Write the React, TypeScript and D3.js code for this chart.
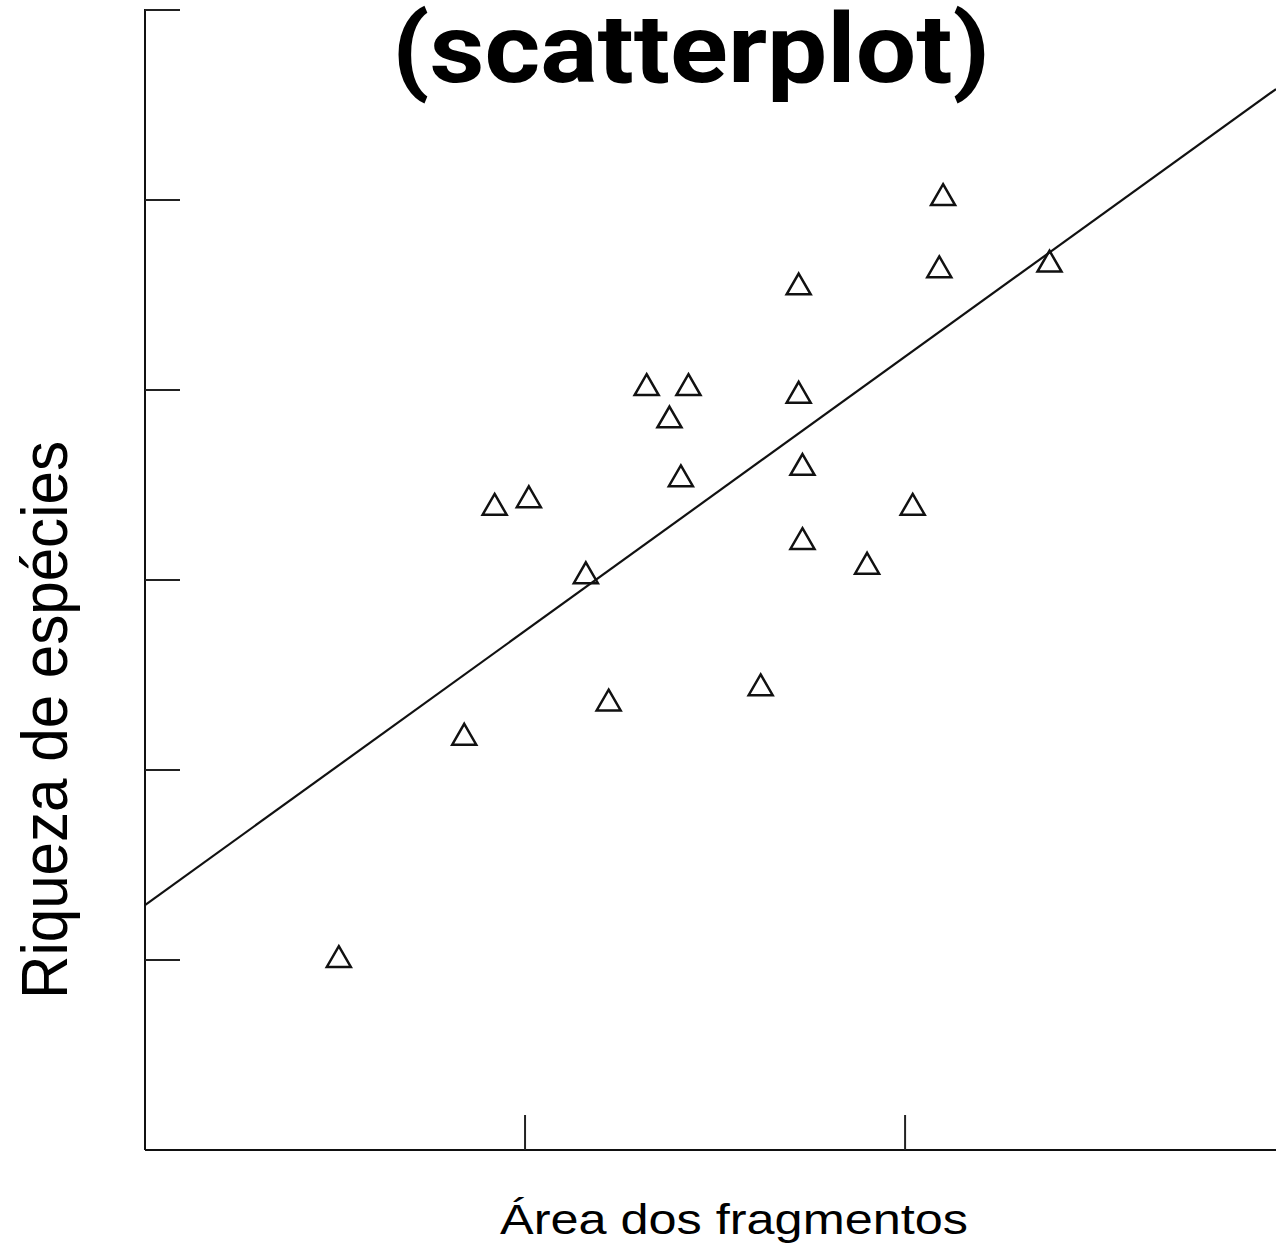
import React from 'react';
import * as d3 from 'd3';

// area (x) vs species richness (y)
const areaValues = [0.51, 0.84, 0.92, 1.01, 1.16, 1.22, 1.32, 1.43, 1.38, 1.41, 1.62, 1.72, 1.72, 1.73, 1.73, 1.90, 2.02, 2.10, 2.09, 2.38];
const richnessValues = [1.0, 2.17, 3.38, 3.42, 3.02, 2.35, 4.01, 4.01, 3.84, 3.53, 2.43, 4.54, 3.97, 3.59, 3.2, 3.07, 3.38, 5.01, 4.63, 4.66];

const xTicks = [1, 2];
const yTicks = [1, 2, 3, 4, 5, 6];

// fitted line end points (data units)
const fitX = [0, 2.976];
const fitY = [1.289, 5.584];

const titleText = '(scatterplot)';
const xLabel = 'Área dos fragmentos';
const yLabel = 'Riqueza de espécies';

const width = 1276;
const height = 1252;

const App: React.FC = () => {
    const margin = { top: 10, right: 0, bottom: 102, left: 145 };

    const xScale = d3.scaleLinear()
        .domain([0, 2.976])
        .range([margin.left, width - margin.right]);

    const yScale = d3.scaleLinear()
        .domain([0, 6])
        .range([height - margin.bottom, margin.top]);

    const tri = d3.symbol().type(d3.symbolTriangle).size(250)();

    const fitLine = d3.line<number>()
        .x((d) => xScale(d))
        .y((d, i) => yScale(fitY[i]));

    const y0 = yScale(0);
    const x0 = xScale(0);
    const tickLen = 35;

    return (
        <svg width={width} height={height} style={{ position: 'absolute', left: 0, top: 0, background: '#fff' }}>
            {/* axes */}
            <line x1={x0} x2={x0} y1={yScale(6) - 1} y2={y0} stroke="#111" strokeWidth={2} />
            <line x1={x0} x2={width} y1={y0} y2={y0} stroke="#111" strokeWidth={2} />

            {yTicks.map((t) => (
                <line key={'y' + t} x1={x0} x2={x0 + tickLen} y1={yScale(t)} y2={yScale(t)} stroke="#222" strokeWidth={2} />
            ))}
            {xTicks.map((t) => (
                <line key={'x' + t} x1={xScale(t)} x2={xScale(t)} y1={y0} y2={y0 - tickLen} stroke="#222" strokeWidth={2} />
            ))}

            {/* regression line */}
            <path d={fitLine(fitX) ?? ''} fill="none" stroke="#111" strokeWidth={2.2} />

            {/* points */}
            {areaValues.map((a, i) => (
                <path
                    key={i}
                    d={tri ?? ''}
                    transform={`translate(${xScale(a)},${yScale(richnessValues[i])})`}
                    fill="none"
                    stroke="#111"
                    strokeWidth={2.5}
                />
            ))}

            {/* title */}
            <text
                x={691}
                y={82}
                textAnchor="middle"
                fontFamily="Roboto, 'Liberation Sans', sans-serif"
                fontWeight="bold"
                fontSize={96}
                textLength={598}
                lengthAdjust="spacingAndGlyphs"
                fill="#000"
            >
                {titleText}
            </text>

            {/* axis labels */}
            <text
                x={734}
                y={1234}
                textAnchor="middle"
                fontFamily="'Liberation Sans', Arial, sans-serif"
                fontSize={43}
                textLength={468}
                lengthAdjust="spacingAndGlyphs"
                fill="#000"
            >
                {xLabel}
            </text>
            <text
                transform={`translate(67,720) rotate(-90)`}
                textAnchor="middle"
                fontFamily="'Liberation Sans', Arial, sans-serif"
                fontSize={65}
                textLength={558}
                lengthAdjust="spacingAndGlyphs"
                fill="#000"
            >
                {yLabel}
            </text>
        </svg>
    );
};

export default App;
